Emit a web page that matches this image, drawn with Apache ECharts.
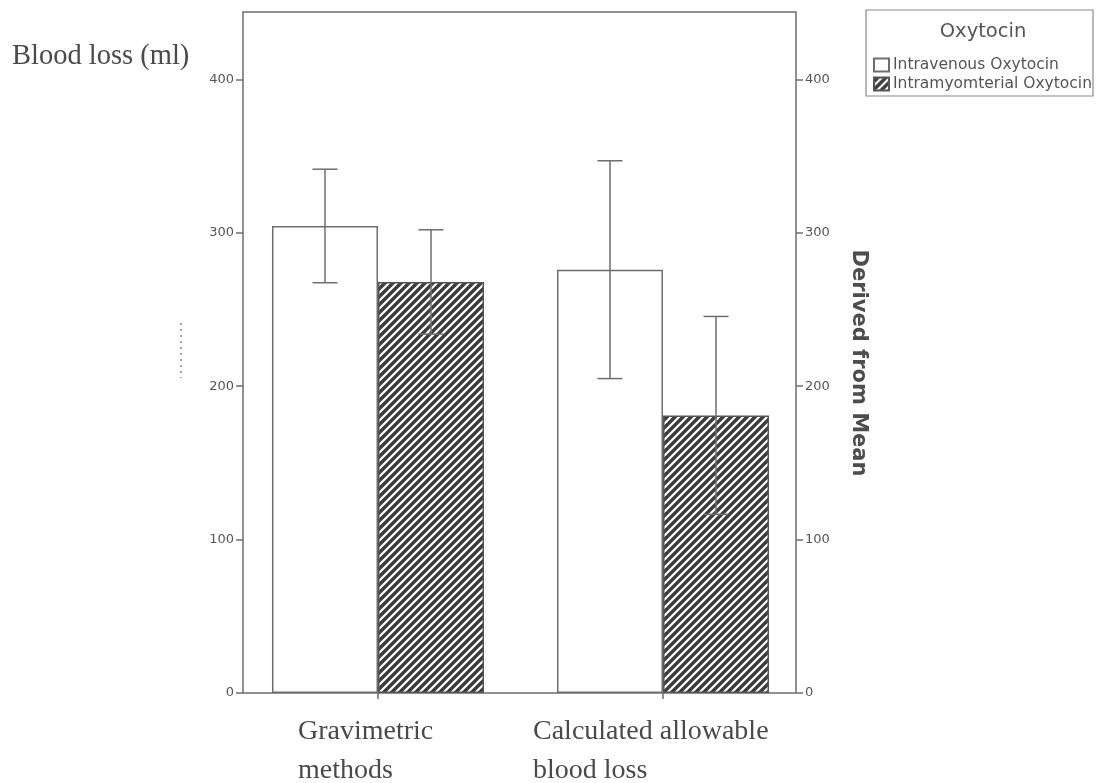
<!DOCTYPE html>
<html><head><meta charset="utf-8">
<script src="https://cdn.jsdelivr.net/npm/echarts@6/dist/echarts.min.js"></script>
<style>html,body{margin:0;padding:0;background:#fff}#c{width:1098px;height:783px}</style>
</head><body><div id="c"></div>
<script>
const categories = ['Gravimetric\nmethods', 'Calculated allowable\nblood loss'];
const seriesNames = ['Intravenous Oxytocin', 'Intramyomterial Oxytocin'];
const legendTitle = 'Oxytocin';
const ivMean = [304.5, 276];
const ivLow = [267.5, 205];
const ivHigh = [341.5, 347];
const imMean = [268, 181];
const imLow = [234, 116.5];
const imHigh = [302, 245.5];
const yMin = 0, yMax = 444, yStep = 100;

const GAP = 0.256;
const LINE = '#6e6e6e';
const TXT = '#555';

function hatch() {
  const s = 8, cv = document.createElement('canvas');
  cv.width = s; cv.height = s;
  const g = cv.getContext('2d');
  g.fillStyle = '#3c3c3c'; g.fillRect(0, 0, s, s);
  g.strokeStyle = '#ffffff'; g.lineWidth = 2.2;
  g.beginPath();
  g.moveTo(-2, s + 2); g.lineTo(s + 2, -2);
  g.moveTo(-2, 2); g.lineTo(2, -2);
  g.moveTo(s - 2, s + 2); g.lineTo(s + 2, s - 2);
  g.stroke();
  return cv;
}

const errData = [];
for (let i = 0; i < categories.length; i++) {
  errData.push([i, ivLow[i], ivHigh[i], -1]);
  errData.push([i, imLow[i], imHigh[i], 1]);
}

const chart = echarts.init(document.getElementById('c'), null, {renderer: 'canvas'});
const fmt = v => (v % 100 === 0 ? String(v) : '');
const yLabel = {fontFamily: 'DejaVu Sans', fontSize: 13, color: TXT, margin: 9, formatter: fmt, showMaxLabel: false};

chart.setOption({
  animation: false,
  backgroundColor: '#fff',
  grid: [
    {left: 235.5, width: 570, top: 12, height: 681, show: false},
    {left: 243, width: 553, top: 12, height: 681, show: true, borderColor: LINE, borderWidth: 1.5, backgroundColor: 'transparent'}
  ],
  xAxis: [
    {type: 'category', gridIndex: 0, data: categories,
     axisLine: {show: false},
     axisTick: {show: true, alignWithLabel: true, length: 6, lineStyle: {color: LINE, width: 1.5}},
     axisLabel: {show: false}, splitLine: {show: false}},
    {type: 'category', gridIndex: 1, data: categories, show: false}
  ],
  yAxis: [
    {type: 'value', gridIndex: 0, min: yMin, max: yMax, interval: yStep, show: false},
    {type: 'value', gridIndex: 1, position: 'left', min: yMin, max: yMax, interval: yStep,
     axisLine: {show: false}, splitLine: {show: false},
     axisTick: {show: true, length: 7, lineStyle: {color: LINE, width: 1.5}},
     axisLabel: yLabel},
    {type: 'value', gridIndex: 1, position: 'right', min: yMin, max: yMax, interval: yStep,
     axisLine: {show: false}, splitLine: {show: false},
     axisTick: {show: true, length: 7, lineStyle: {color: LINE, width: 1.5}},
     axisLabel: yLabel}
  ],
  legend: {
    orient: 'vertical', left: 868, top: 52, itemWidth: 15, itemHeight: 13, itemGap: 3,
    icon: 'rect', selectedMode: false,
    textStyle: {fontFamily: 'DejaVu Sans', fontSize: 15.5, color: TXT, padding: [0, 0, 0, -1]},
    data: seriesNames
  },
  series: [
    {name: seriesNames[0], type: 'bar', xAxisIndex: 0, yAxisIndex: 0, data: ivMean,
     barGap: '0%', barCategoryGap: (GAP * 100) + '%',
     itemStyle: {color: '#ffffff', borderColor: LINE, borderWidth: 1.5}},
    {name: seriesNames[1], type: 'bar', xAxisIndex: 0, yAxisIndex: 0, data: imMean,
     barGap: '0%', barCategoryGap: (GAP * 100) + '%',
     itemStyle: {color: {image: hatch(), repeat: 'repeat'}, borderColor: '#555', borderWidth: 1.5}},
    {type: 'custom', xAxisIndex: 0, yAxisIndex: 0, z: 5, data: errData,
     renderItem: function (params, api) {
       const cat = api.value(0), lo = api.value(1), hi = api.value(2), side = api.value(3);
       const band = api.size([1, 0])[0];
       const bw = band * (1 - GAP) / 2;
       const x = api.coord([cat, 0])[0] + side * bw / 2;
       const yl = api.coord([cat, lo])[1], yh = api.coord([cat, hi])[1];
       const cap = 12.5;
       const st = {stroke: LINE, lineWidth: 1.5, fill: null};
       return {type: 'group', children: [
         {type: 'line', shape: {x1: x, y1: yl, x2: x, y2: yh}, style: st},
         {type: 'line', shape: {x1: x - cap, y1: yh, x2: x + cap, y2: yh}, style: st},
         {type: 'line', shape: {x1: x - cap, y1: yl, x2: x + cap, y2: yl}, style: st}
       ]};
     }}
  ],
  graphic: [
    {type: 'text', left: 12, top: 42, style: {text: 'Blood loss (ml)', font: '28.5px "Liberation Serif", serif', fill: '#4a4a4a'}},
    {type: 'line', shape: {x1: 181, y1: 323, x2: 181, y2: 378}, style: {stroke: '#888', lineWidth: 1.5, lineDash: [2, 4]}},
    {type: 'text', x: 858, y: 363, rotation: -Math.PI / 2,
     style: {text: 'Derived from Mean', font: 'bold 21px "DejaVu Sans", sans-serif', fill: '#4d4d4d', align: 'center', verticalAlign: 'middle'}},
    {type: 'rect', shape: {x: 866, y: 10, width: 227, height: 86}, style: {fill: '#fff', stroke: '#8a8a8a', lineWidth: 1.2}, z: -1},
    {type: 'text', x: 983, y: 32, style: {text: legendTitle, font: '19.5px "DejaVu Sans", sans-serif', fill: TXT, align: 'center', verticalAlign: 'middle'}},
    {type: 'text', x: 298, y: 712, style: {text: categories[0], font: '28px "Liberation Serif", serif', fill: '#4a4a4a', lineHeight: 39}},
    {type: 'text', x: 533, y: 712, style: {text: categories[1], font: '28px "Liberation Serif", serif', fill: '#4a4a4a', lineHeight: 39}}
  ]
});
</script>
</body></html>
